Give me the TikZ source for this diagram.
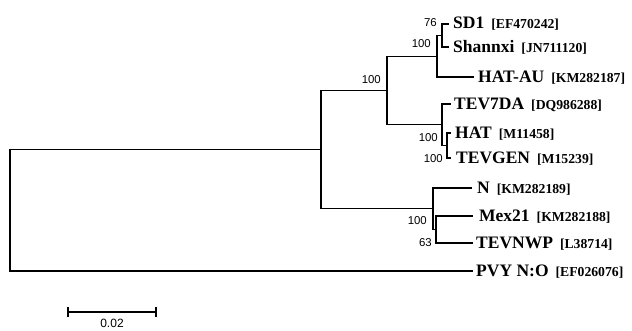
\documentclass[tikz,border=0pt]{standalone}
\usepackage{fontspec}
\setmainfont{Liberation Serif}
\setsansfont{Liberation Sans}
\begin{document}
\begin{tikzpicture}[x=1pt,y=-1pt,
  branch/.style={line width=1.1pt,line cap=rect},
  leaflab/.style={anchor=base west,inner sep=0pt},
  boot/.style={anchor=east,inner sep=0pt,font=\fontsize{11.4}{12}\sffamily},
]
\newcommand{\lname}[2]{{\fontsize{17.5}{18}\selectfont\bfseries #1}\hspace{7pt}{\fontsize{13.7}{14}\selectfont\bfseries #2}}
\useasboundingbox (0,0) rectangle (632,330);
% leaves
\coordinate (lSD1) at (448,24);
\coordinate (lSha) at (448,47);
\coordinate (lHATAU) at (473,77);
\coordinate (lTEV7) at (450,104);
\coordinate (lHAT) at (450,133);
\coordinate (lGEN) at (450,158);
\coordinate (lN) at (471,188);
\coordinate (lMex) at (472,216);
\coordinate (lNWP) at (472,243);
\coordinate (lPVY) at (472,271);
% internal nodes
\coordinate (D) at (442,35.5);
\coordinate (C) at (437,56.25);
\coordinate (F) at (447,145.5);
\coordinate (E) at (442,124.75);
\coordinate (B) at (387,90.5);
\coordinate (H) at (436,229.5);
\coordinate (G) at (433,208.75);
\coordinate (A) at (321,149.6);
\coordinate (R) at (10,210.3);
% branches
\draw[branch] (R) |- (A);
\draw[branch] (R) |- (lPVY);
\draw[branch] (A) |- (B);
\draw[branch] (A) |- (G);
\draw[branch] (B) |- (C);
\draw[branch] (B) |- (E);
\draw[branch] (C) |- (D);
\draw[branch] (C) |- (lHATAU);
\draw[branch] (D) |- (lSD1);
\draw[branch] (D) |- (lSha);
\draw[branch] (E) |- (lTEV7);
\draw[branch] (E) |- (F);
\draw[branch] (F) |- (lHAT);
\draw[branch] (F) |- (lGEN);
\draw[branch] (G) |- (lN);
\draw[branch] (G) |- (H);
\draw[branch] (H) |- (lMex);
\draw[branch] (H) |- (lNWP);
% leaf labels
\node[leaflab] (tSD1) at ([xshift=5pt,yshift=-4pt]lSD1) {\lname{SD1}{[EF470242]}};
\node[leaflab] (tSha) at ([xshift=5pt,yshift=-5pt]lSha) {\lname{Shannxi}{[JN711120]}};
\node[leaflab] (tHATAU) at ([xshift=5pt,yshift=-5pt]lHATAU) {\lname{HAT-AU}{[KM282187]}};
\node[leaflab] (tTEV7) at ([xshift=4pt,yshift=-5pt]lTEV7) {\lname{TEV7DA}{[DQ986288]}};
\node[leaflab] (tHAT) at ([xshift=5pt,yshift=-5pt]lHAT) {\lname{HAT}{[M11458]}};
\node[leaflab] (tGEN) at ([xshift=6pt,yshift=-5pt]lGEN) {\lname{TEVGEN}{[M15239]}};
\node[leaflab] (tN) at ([xshift=6pt,yshift=-5pt]lN) {\lname{N}{[KM282189]}};
\node[leaflab] (tMex) at ([xshift=7pt,yshift=-5pt]lMex) {\lname{Mex21}{[KM282188]}};
\node[leaflab] (tNWP) at ([xshift=4pt,yshift=-5pt]lNWP) {\lname{TEVNWP}{[L38714]}};
\node[leaflab] (tPVY) at ([xshift=4pt,yshift=-5pt]lPVY) {\lname{PVY N:O}{[EF026076]}};
% bootstrap values
\node[boot] (b76) at (437,23) {76};
\node[boot] (bC) at (431,44) {100};
\node[boot] (bB) at (381,80) {100};
\node[boot] (bE) at (438,138) {100};
\node[boot] (bF) at (443,159) {100};
\node[boot] (bG) at (427,221) {100};
\node[boot] (b63) at (432,243) {63};
% scale bar
\coordinate (sL) at (68,312);
\coordinate (sR) at (156,312);
\draw[line width=1.1pt] (sL) -- (sR);
\draw[line width=1.1pt] ([yshift=-5pt]sL) -- ([yshift=5pt]sL);
\draw[line width=1.1pt] ([yshift=-5pt]sR) -- ([yshift=5pt]sR);
\node[font=\fontsize{12}{13}\sffamily,inner sep=0pt] (sLab) at (112,323.5) {0.02};
\end{tikzpicture}
\end{document}
